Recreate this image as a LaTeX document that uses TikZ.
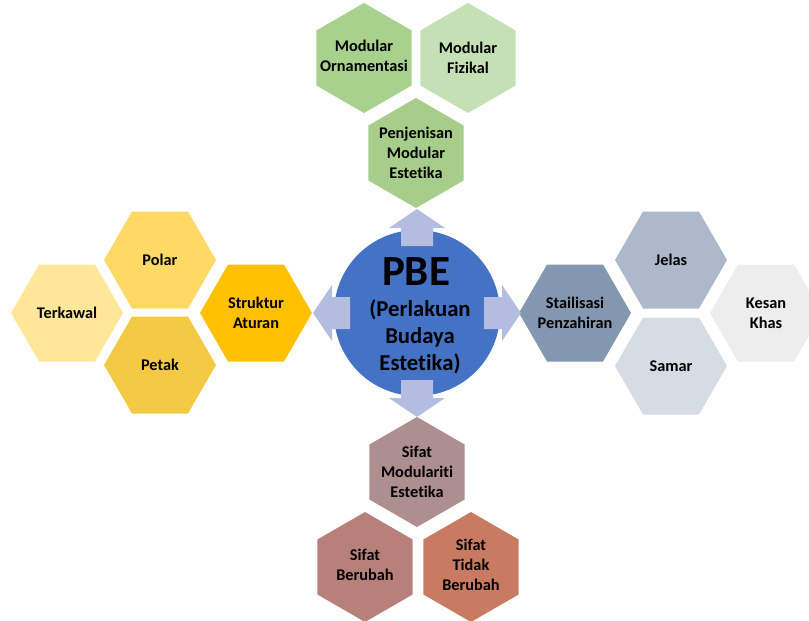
\documentclass[tikz,border=0pt]{standalone}
\usepackage{fontspec}
\setmainfont[Ligatures={NoCommon}]{Carlito}
\usetikzlibrary{shapes.geometric}
\definecolor{cMO}{HTML}{A9D18E}
\definecolor{cMF}{HTML}{C5E0B4}
\definecolor{cPM}{HTML}{A6CE8A}
\definecolor{cTK}{HTML}{FFE699}
\definecolor{cPO}{HTML}{FFD966}
\definecolor{cPT}{HTML}{F4CA44}
\definecolor{cSA}{HTML}{FFC000}
\definecolor{cSP}{HTML}{8497B0}
\definecolor{cJE}{HTML}{ADB9CA}
\definecolor{cSM}{HTML}{D6DCE4}
\definecolor{cKK}{HTML}{EDEDED}
\definecolor{cSMO}{HTML}{AE8F8F}
\definecolor{cSB}{HTML}{B8807A}
\definecolor{cSTB}{HTML}{C97B62}
\definecolor{cCirc}{HTML}{4472C4}
\definecolor{cArr}{HTML}{B4BDE0}
\begin{document}
\begin{tikzpicture}[x=1pt,y=-1pt,
  hexh/.style={regular polygon, regular polygon sides=6, minimum size=112pt, inner sep=0pt, outer sep=0pt, draw=none},
  hexv/.style={regular polygon, regular polygon sides=6, shape border rotate=30, minimum size=110pt, inner sep=0pt, outer sep=0pt, draw=none},
  lbl/.style={font=\bfseries\fontsize{16.3}{20}\selectfont, align=center, inner sep=0pt, text=black},
  pics/barrow/.style={code={\fill[cArr] (67,-16) -- (85,-16) -- (85,-28) -- (104,0) -- (85,28) -- (85,16) -- (67,16) -- cycle;}}]
\useasboundingbox (0,0) rectangle (809,621);
\begin{scope}
\clip (0,0) rectangle (809,621);
% top group
\node[hexv, fill=cMO] (mo) at (364,58) {};
\node[lbl] (tmo) at ([yshift=2pt]mo.center) {Modular\\Ornamentasi};
\node[hexv, fill=cMF] (mf) at (468,58) {};
\node[lbl] (tmf) at (mf) {Modular\\Fizikal};
\node[hexv, fill=cPM] (pm) at (416,153) {};
\node[lbl] (tpm) at (pm) {Penjenisan\\Modular\\Estetika};
% left group
\node[hexh, fill=cTK] (tk) at (67,313) {};
\node[lbl] (ttk) at (tk) {Terkawal};
\node[hexh, fill=cPO] (po) at (160,260) {};
\node[lbl] (tpo) at (po) {Polar};
\node[hexh, fill=cPT] (pt) at (160,365) {};
\node[lbl] (tpt) at (pt) {Petak};
\node[hexh, fill=cSA] (sa) at (256,313) {};
\node[lbl] (tsa) at (sa) {Struktur\\Aturan};
% right group
\node[hexh, fill=cSP] (sp) at (575,313) {};
\node[lbl] (tsp) at (sp) {Stailisasi\\Penzahiran};
\node[hexh, fill=cJE] (je) at (671,260) {};
\node[lbl] (tje) at (je) {Jelas};
\node[hexh, fill=cSM] (sm) at (671,366) {};
\node[lbl] (tsm) at (sm) {Samar};
\node[hexh, fill=cKK] (kk) at (766,313) {};
\node[lbl] (tkk) at (kk) {Kesan\\Khas};
% bottom group
\node[hexv, fill=cSMO] (smo) at (417,472) {};
\node[lbl] (tsmo) at (smo) {Sifat\\Modulariti\\Estetika};
\node[hexv, fill=cSB] (sb) at (365,567) {};
\node[lbl] (tsb) at ([yshift=2pt]sb.center) {Sifat\\Berubah};
\node[hexv, fill=cSTB] (stb) at (471,567) {};
\node[lbl] (tstb) at ([yshift=2pt]stb.center) {Sifat\\Tidak\\Berubah};
% centre
\node[circle, fill=cCirc, minimum size=166pt, inner sep=0pt, outer sep=0pt] (c) at (417,313) {};
\pic at (c) [rotate=90] {barrow};
\pic at (c) [rotate=180] {barrow};
\pic at (c) [rotate=0] {barrow};
\pic at (c) [rotate=270] {barrow};
\node[font=\bfseries\fontsize{43}{43}\selectfont, inner sep=0pt] (pbe) at (416,272) {PBE};
\node[font=\bfseries\fontsize{22.7}{27}\selectfont, align=center, inner sep=0pt] (pbesub) at (420,337) {(Perlakuan\\Budaya\\Estetika)};
\end{scope}
\end{tikzpicture}
\end{document}
